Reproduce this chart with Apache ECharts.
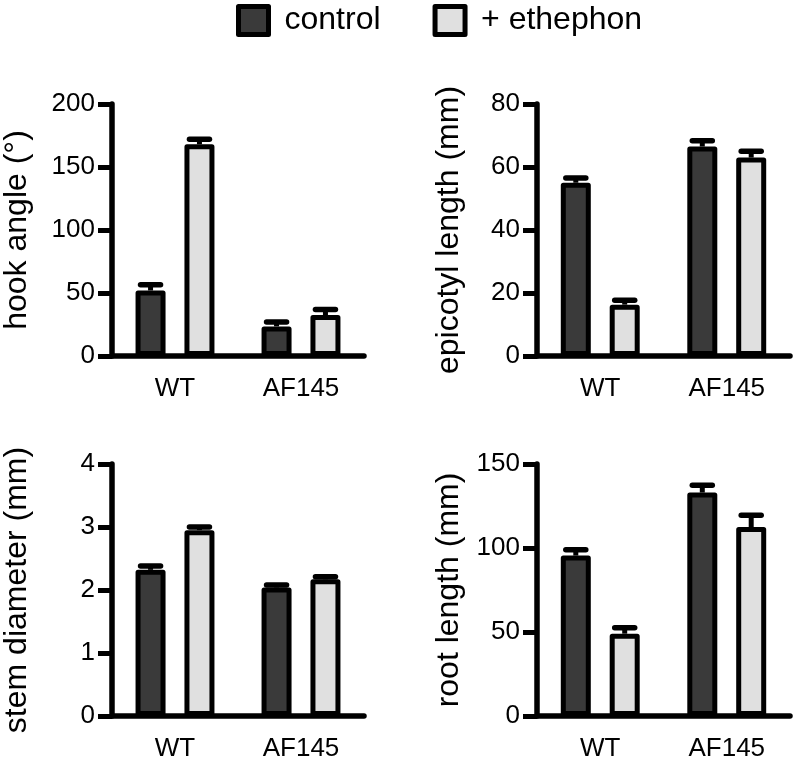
<!DOCTYPE html>
<html><head><meta charset="utf-8">
<script src="https://cdn.jsdelivr.net/npm/echarts@6/dist/echarts.min.js"></script>
<style>html,body{margin:0;padding:0;background:#fff}#c{width:793px;height:762px}</style>
</head><body><div id="c"></div>
<script>
// ---- data ----
const categories = ['WT', 'AF145'];
const seriesNames = ['control', '+ ethephon'];

const hookControl = [52, 23.5];
const hookControlErr = [4.5, 3.5];
const hookEthephon = [168, 32.5];
const hookEthephonErr = [4, 4.5];

const epiControl = [55, 66.5];
const epiControlErr = [1.5, 1.8];
const epiEthephon = [16.3, 63];
const epiEthephonErr = [1.4, 2];

const stemControl = [2.32, 2.04];
const stemControlErr = [0.06, 0.04];
const stemEthephon = [2.95, 2.17];
const stemEthephonErr = [0.05, 0.04];

const rootControl = [95.5, 133];
const rootControlErr = [3.5, 4.3];
const rootEthephon = [49, 112.5];
const rootEthephonErr = [3.6, 7];

const yNames = ['hook angle (°)', 'epicotyl length (mm)', 'stem diameter (mm)', 'root length (mm)'];
const yMax = [200, 80, 4, 150];
const yInterval = [50, 20, 1, 50];

// ---- build ----
const panels = [
  { c: hookControl, ce: hookControlErr, e: hookEthephon, ee: hookEthephonErr },
  { c: epiControl, ce: epiControlErr, e: epiEthephon, ee: epiEthephonErr },
  { c: stemControl, ce: stemControlErr, e: stemEthephon, ee: stemEthephonErr },
  { c: rootControl, ce: rootControlErr, e: rootEthephon, ee: rootEthephonErr }
];
const gridPos = [
  { left: 111, top: 104 }, { left: 537, top: 104 },
  { left: 111, top: 464 }, { left: 537, top: 464 }
];
const nameGaps = [79, 72, 79, 72];
const FONT = '"Liberation Sans", Arial, Helvetica, sans-serif';
const BAR_W = 30, BAR_GAP = 0.63, CAP = 20;
const colors = ['#3a3a3a', '#e0e0e0'];
const halfStep = BAR_W * (1 + BAR_GAP) / 2;

function errSeries(gi, vals, errs, sign) {
  return {
    type: 'custom', xAxisIndex: gi, yAxisIndex: gi, z: 5,
    data: vals.map((v, i) => [i, v, errs[i]]),
    encode: { x: 0, y: 1 },
    renderItem: function (params, api) {
      const ci = api.value(0), v = api.value(1), e = api.value(2);
      const b = api.coord([ci, v]);
      const t = api.coord([ci, v + e]);
      const x = b[0] + sign * halfStep;
      return { type: 'group', children: [
        { type: 'line', shape: { x1: x, y1: b[1], x2: x, y2: t[1] }, style: { stroke: '#000', lineWidth: 5 } },
        { type: 'line', shape: { x1: x - CAP / 2, y1: t[1], x2: x + CAP / 2, y2: t[1] }, style: { stroke: '#000', lineWidth: 5.5, lineCap: 'round' } }
      ] };
    }
  };
}

const grid = [], xAxis = [], yAxis = [], series = [];
panels.forEach((p, gi) => {
  grid.push({ left: gridPos[gi].left, top: gridPos[gi].top, width: 253, height: 252 });
  xAxis.push({
    type: 'category', gridIndex: gi, data: categories,
    axisLine: { lineStyle: { color: '#000', width: 5.5 } },
    axisTick: { alignWithLabel: true, length: 14, lineStyle: { color: '#000', width: 5 } },
    axisLabel: { color: '#000', fontSize: 26, fontFamily: FONT, margin: 20 }
  });
  yAxis.push({
    type: 'value', gridIndex: gi, min: 0, max: yMax[gi], interval: yInterval[gi],
    name: yNames[gi], nameLocation: 'middle', nameRotate: 90, nameGap: nameGaps[gi],
    nameTextStyle: { color: '#000', fontSize: 32, fontFamily: FONT },
    axisLine: { show: true, lineStyle: { color: '#000', width: 5.5 } },
    axisTick: { show: true, length: 14, lineStyle: { color: '#000', width: 5 } },
    axisLabel: { color: '#000', fontSize: 26, fontFamily: FONT, margin: 17 },
    splitLine: { show: false }
  });
  series.push({
    type: 'bar', name: seriesNames[0], xAxisIndex: gi, yAxisIndex: gi, data: p.c,
    barWidth: BAR_W, barGap: (BAR_GAP * 100) + '%',
    itemStyle: { color: colors[0], borderColor: '#000', borderWidth: 5, borderJoin: 'round' }
  });
  series.push({
    type: 'bar', name: seriesNames[1], xAxisIndex: gi, yAxisIndex: gi, data: p.e,
    barWidth: BAR_W, barGap: (BAR_GAP * 100) + '%',
    itemStyle: { color: colors[1], borderColor: '#000', borderWidth: 5, borderJoin: 'round' }
  });
  series.push(errSeries(gi, p.c, p.ce, -1));
  series.push(errSeries(gi, p.e, p.ee, 1));
});

const chart = echarts.init(document.getElementById('c'), null, { renderer: 'canvas' });
chart.setOption({
  animation: false,
  backgroundColor: '#fff',
  legend: {
    data: seriesNames, left: 231, top: -1, icon: 'rect',
    itemWidth: 30, itemHeight: 28, itemGap: 52,
    itemStyle: { borderColor: '#000', borderWidth: 5 },
    textStyle: { color: '#000', fontSize: 32, fontFamily: FONT, padding: [0, 0, 0, 11] }
  },
  grid, xAxis, yAxis, series
});
</script></body></html>
